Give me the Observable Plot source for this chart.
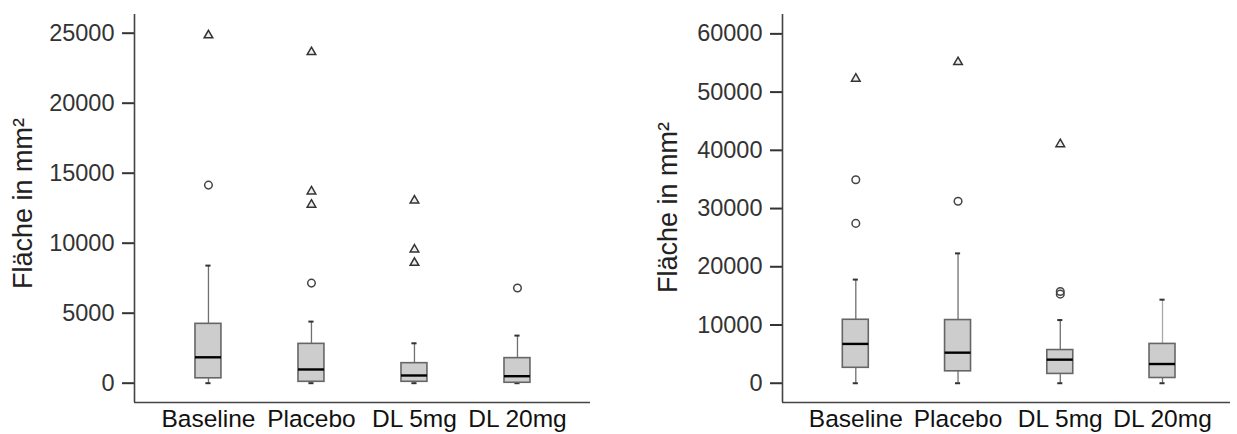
<!DOCTYPE html>
<html>
<head>
<meta charset="utf-8">
<script src="https://cdn.jsdelivr.net/npm/d3@7"></script>
<script src="https://cdn.jsdelivr.net/npm/@observablehq/plot@0.6"></script>
<style>
  html, body { margin: 0; padding: 0; background: #fff; }
  #wrap { position: relative; width: 1237px; height: 434px; }
  #left { position: absolute; left: 0; top: 0; }
  #right { position: absolute; left: 640px; top: 0; }
  svg text { font-family: "Liberation Sans", Arial, sans-serif; }
</style>
</head>
<body>
<div id="wrap"><div id="left"></div><div id="right"></div></div>
<script>
const categories = ["Baseline", "Placebo", "DL 5mg", "DL 20mg"];

// Left panel (values in mm²)
const leftMin    = [0, 0, 0, 0];
const leftQ1     = [350, 100, 100, 30];
const leftMedian = [1850, 980, 550, 500];
const leftQ3     = [4240, 2810, 1430, 1790];
const leftMax    = [8400, 4400, 2850, 3400];
const leftCircles   = [[14150], [7150], [], [6800]];
const leftTriangles = [[24850], [23650, 13700, 12750], [13050, 9550, 8600], []];

// Right panel (values in mm²)
const rightMin    = [0, 0, 0, 0];
const rightQ1     = [2650, 2050, 1600, 900];
const rightMedian = [6750, 5250, 4050, 3300];
const rightQ3     = [10900, 10850, 5700, 6750];
const rightMax    = [17800, 22300, 10850, 14350];
const rightCircles   = [[34950, 27450], [31250], [15750, 15300], []];
const rightTriangles = [[52300], [55150], [41050], []];

const leftTicks = [0, 5000, 10000, 15000, 20000, 25000];
const rightTicks = [0, 10000, 20000, 30000, 40000, 50000, 60000];

function panel(opts) {
  const boxes = categories.map((c, i) => ({
    i, min: opts.min[i], q1: opts.q1[i], med: opts.med[i], q3: opts.q3[i], max: opts.max[i]
  }));
  const circles = [], triangles = [];
  opts.circles.forEach((arr, i) => arr.forEach(v => circles.push({i, v})));
  opts.triangles.forEach((arr, i) => arr.forEach(v => triangles.push({i, v})));
  const hw = opts.boxHalf, cw = opts.capHalf;
  return Plot.plot({
    width: opts.width,
    height: 434,
    marginLeft: opts.marginLeft,
    marginRight: opts.marginRight,
    marginTop: 14,
    marginBottom: 32,
    style: {fontFamily: '"Liberation Sans", Arial, sans-serif', fontSize: "23px", color: "#222", background: "#fff"},
    x: {type: "linear", domain: opts.xDomain, axis: null},
    y: {domain: opts.yDomain, axis: null},
    marks: [
      Plot.axisY({ticks: opts.yTicks, tickSize: 12, tickPadding: 8, tickFormat: d => String(d),
        stroke: "#333", strokeWidth: 2, fontSize: 23.5, fill: "#333", label: null}),
      Plot.text(["Fläche in mm²"], {frameAnchor: "left", dx: opts.titleDx, dy: opts.titleDy, rotate: -90, fontSize: 27, fill: "#222", textAnchor: "middle"}),
      Plot.axisX({ticks: [0, 1, 2, 3], tickSize: 0, tickPadding: 7, tickFormat: i => categories[i], fontSize: 24.5, fill: "#111", label: null}),
      // whiskers
      Plot.ruleX(boxes, {x: "i", y1: "min", y2: "q1", stroke: "#6f6f6f", strokeWidth: 1.3}),
      Plot.ruleX(boxes, {x: "i", y1: "q3", y2: "max", stroke: d => d.i === 3 && opts.lightLast ? "#a8a8a8" : "#6f6f6f", strokeWidth: 1.3}),
      Plot.ruleY(boxes, {y: "max", x1: d => d.i - cw, x2: d => d.i + cw, stroke: "#333", strokeWidth: 2}),
      Plot.ruleY(boxes, {y: "min", x1: d => d.i - cw, x2: d => d.i + cw, stroke: "#333", strokeWidth: 2}),
      // boxes
      Plot.rect(boxes, {x1: d => d.i - hw, x2: d => d.i + hw, y1: "q1", y2: "q3", fill: "#cdcdcd", stroke: "#666", strokeWidth: 1.6}),
      Plot.ruleY(boxes, {y: "med", x1: d => d.i - hw, x2: d => d.i + hw, stroke: "#000", strokeWidth: 2.4}),
      // outliers
      Plot.dot(circles, {x: "i", y: "v", r: 3.8, stroke: "#444", strokeWidth: 1.5, fill: "none"}),
      Plot.dot(triangles, {x: "i", y: "v", symbol: "triangle", r: 3.2, stroke: "#333", strokeWidth: 1.5, fill: "#eee"}),
      // axis lines
      Plot.ruleY([opts.yDomain[0]], {stroke: "#444", strokeWidth: 1.6}),
      Plot.ruleX([opts.xDomain[0]], {stroke: "#444", strokeWidth: 1.6})
    ]
  });
}

document.getElementById("left").appendChild(panel({
  width: 640, marginLeft: 134, marginRight: 50,
  xDomain: [-0.718, 3.709], yDomain: [-1379, 26336], yTicks: leftTicks,
  min: leftMin, q1: leftQ1, med: leftMedian, q3: leftQ3, max: leftMax,
  circles: leftCircles, triangles: leftTriangles,
  boxHalf: 0.126, capHalf: 0.025, titleDx: -111, titleDy: -5, lightLast: false
}));

document.getElementById("right").appendChild(panel({
  width: 597, marginLeft: 142, marginRight: 7,
  xDomain: [-0.717, 3.665], yDomain: [-3309, 63326], yTicks: rightTicks,
  min: rightMin, q1: rightQ1, med: rightMedian, q3: rightQ3, max: rightMax,
  circles: rightCircles, triangles: rightTriangles,
  boxHalf: 0.127, capHalf: 0.025, titleDx: -114, titleDy: -1, lightLast: true
}));
</script>
</body>
</html>
